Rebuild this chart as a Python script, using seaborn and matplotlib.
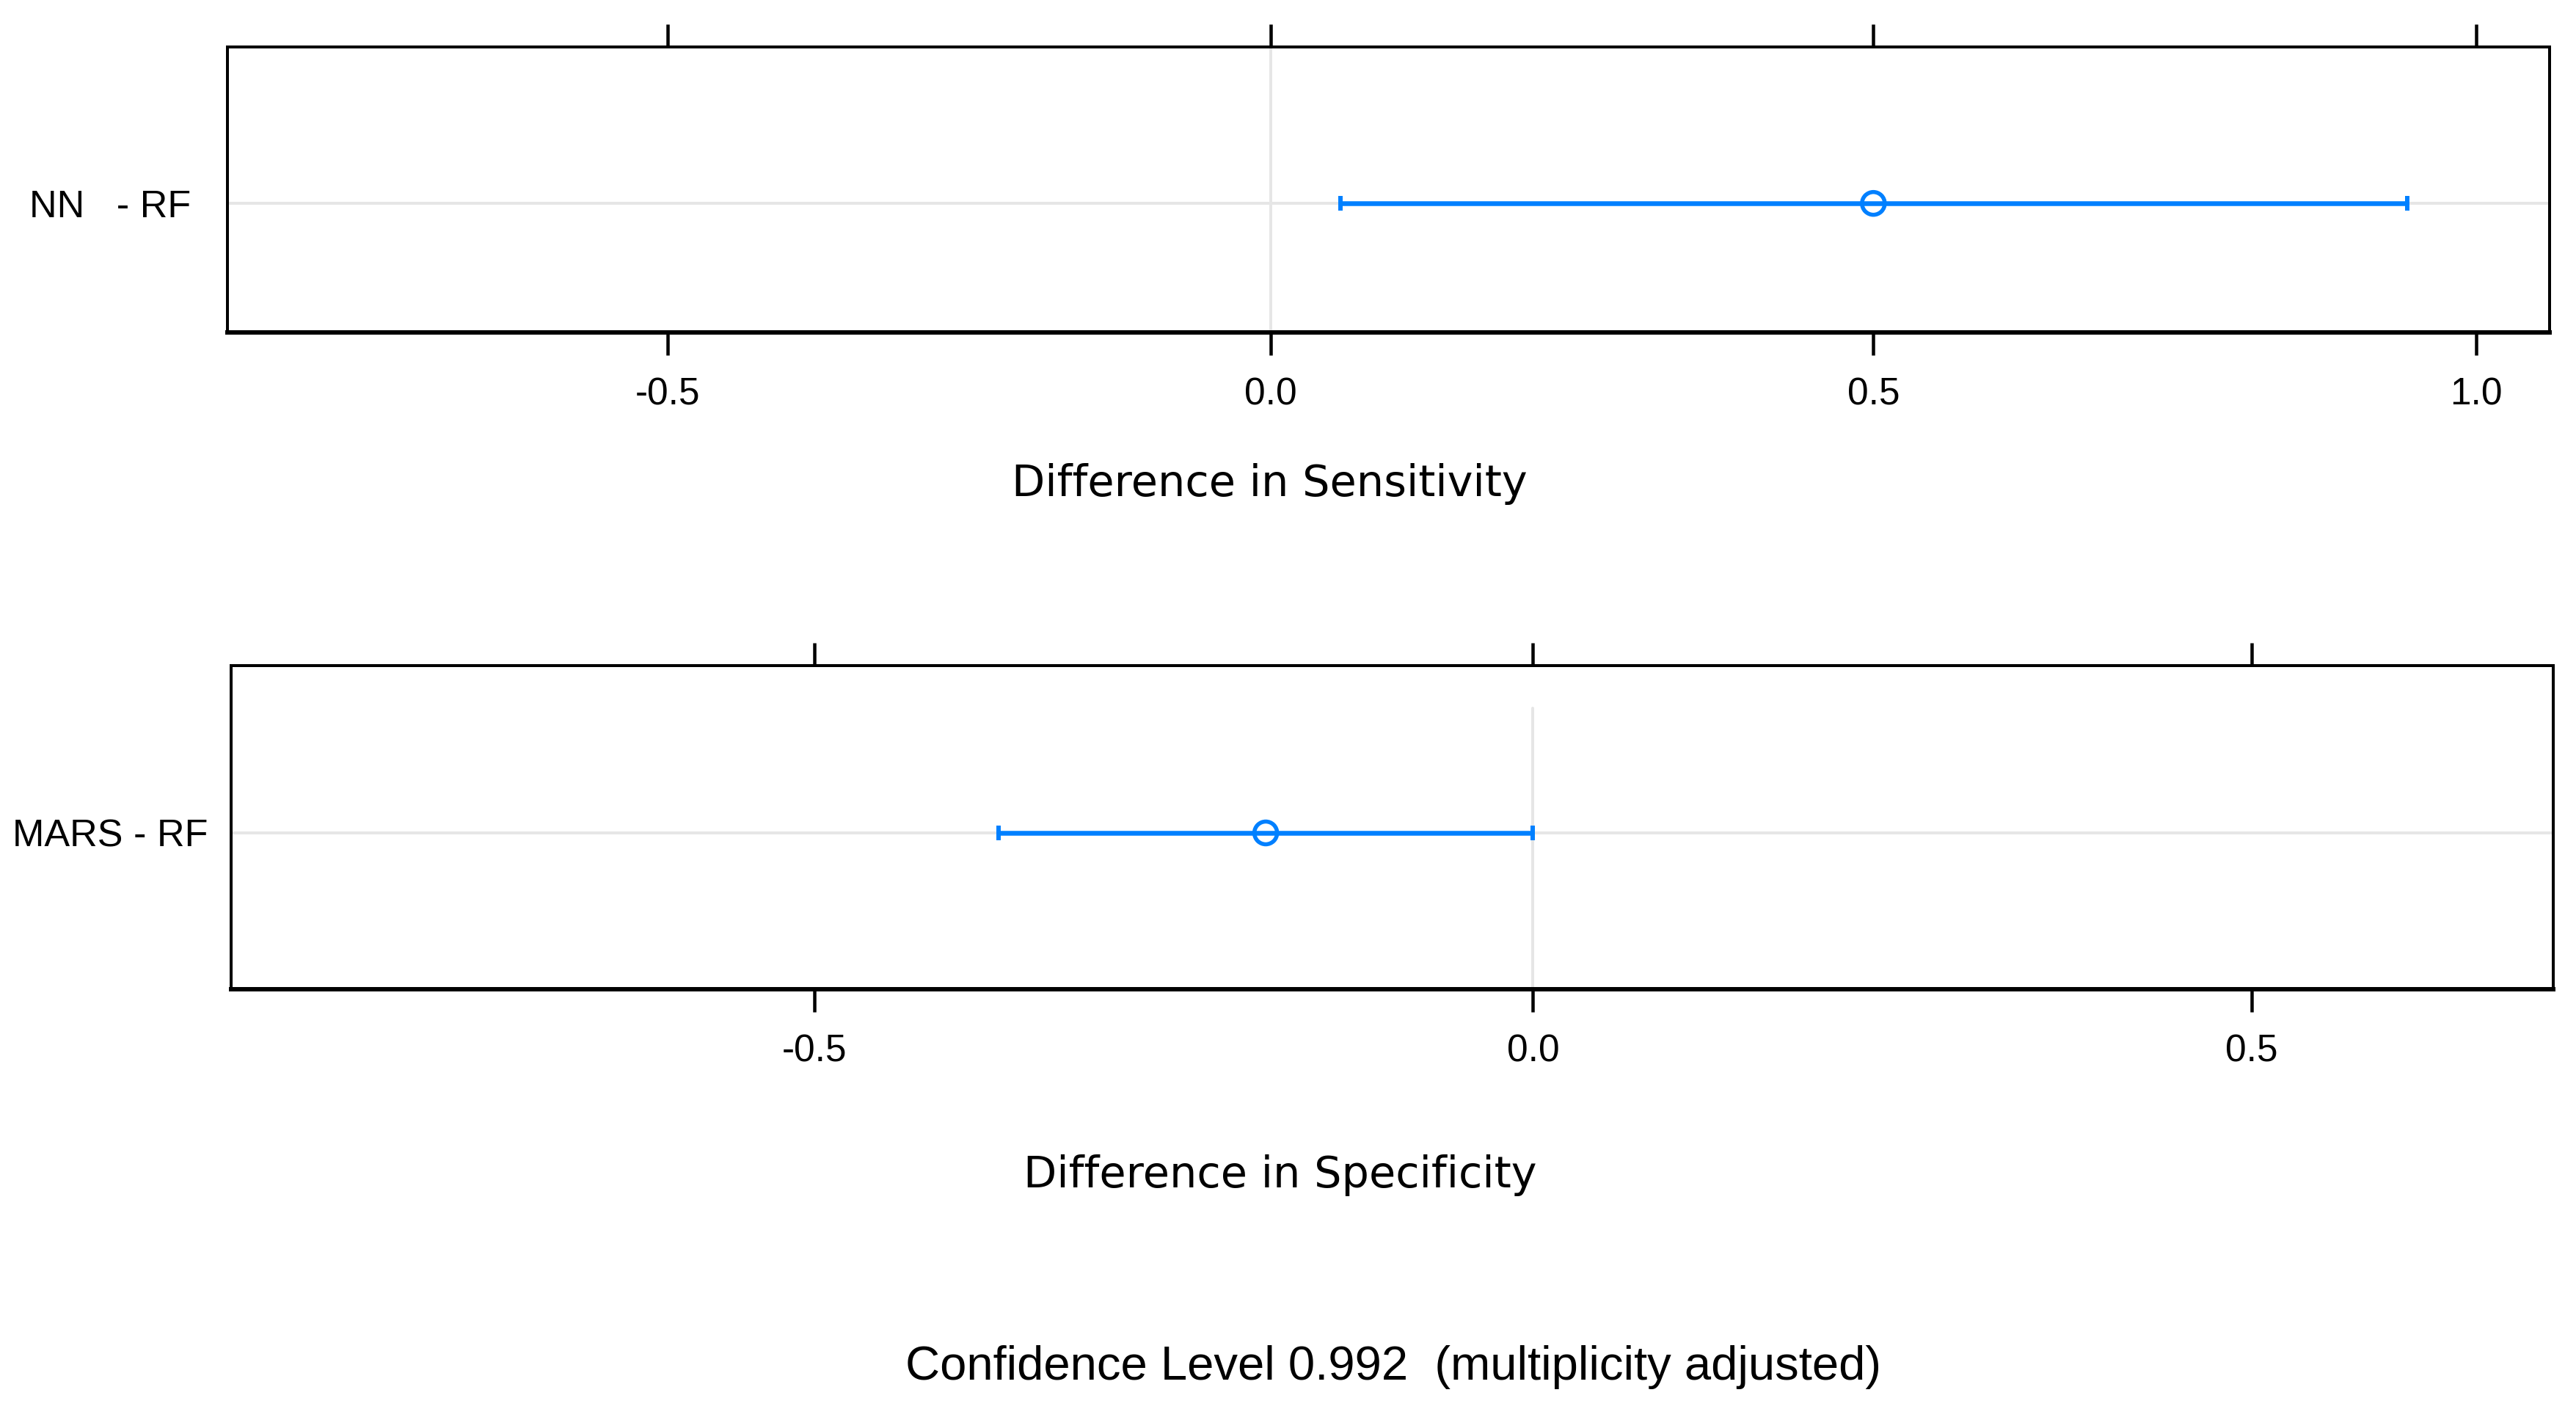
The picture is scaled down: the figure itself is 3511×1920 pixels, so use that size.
import numpy as np
import pandas as pd
import matplotlib
matplotlib.use("Agg")
import matplotlib.pyplot as plt
import seaborn as sns

# ---- data ----
comparisons_top = ["NN   - RF"]
est_top = [0.500]
lower_top = [0.058]
upper_top = [0.943]

comparisons_bot = ["MARS - RF"]
est_bot = [-0.186]
lower_bot = [-0.372]
upper_bot = [0.000]

xticks_top = [-0.5, 0.0, 0.5, 1.0]
xticks_bot = [-0.5, 0.0, 0.5]
xlim_top = (-0.8655, 1.061)
xlim_bot = (-0.906, 0.710)

xlabel_top = "Difference in Sensitivity"
xlabel_bot = "Difference in Specificity"
footer = "Confidence Level 0.992  (multiplicity adjusted)"

# ---- style ----
sns.set_theme(style="white")
plt.rcParams["font.family"] = ["Liberation Sans", "DejaVu Sans"]

W, H = 3511, 1920
DPI = 100
fig = plt.figure(figsize=(W / DPI, H / DPI), dpi=DPI)
fig.patch.set_facecolor("white")

BLUE = "#0080FF"
GRID = "#E6E6E6"
PX = 72.0 / DPI  # points per pixel


def panel(rect, labels, est, lo, hi, xticks, xlim, ylim, vline_ymax, ypad):
    ax = fig.add_axes(rect)
    ax.set_facecolor("white")
    df = pd.DataFrame({"comp": labels, "est": est, "lo": lo, "hi": hi})
    ypos = np.arange(len(labels))
    # reference lines
    ax.axhline(0, color=GRID, lw=4 * PX, zorder=0)
    ax.axvline(0, ymin=0, ymax=vline_ymax, color=GRID, lw=4 * PX, zorder=0)
    # confidence intervals
    ax.errorbar(df["est"], ypos,
                xerr=[df["est"] - df["lo"], df["hi"] - df["est"]],
                fmt="none", ecolor=BLUE, elinewidth=6.5 * PX,
                capsize=10 * PX, capthick=6 * PX, zorder=2)
    # estimates
    sns.scatterplot(x=df["est"], y=ypos, ax=ax, marker="o", s=(31 * PX) ** 2,
                    facecolors="none", edgecolor=BLUE, linewidth=5.5 * PX,
                    zorder=3, legend=False)
    ax.set_xlim(*xlim)
    ax.set_ylim(*ylim)
    ax.set_yticks(ypos)
    ax.set_yticklabels(df["comp"])
    ax.set_xticks(xticks)
    ax.set_xticklabels([f"{t:.1f}" for t in xticks])
    ax.set_xlabel("")
    ax.set_ylabel("")
    for name, s in ax.spines.items():
        s.set_visible(True)
        s.set_color("black")
        s.set_linewidth((6 if name == "bottom" else 4) * PX)
    ax.tick_params(axis="x", which="both", top=True, bottom=True,
                   labeltop=False, labelbottom=True, direction="out",
                   length=31 * PX, width=4.5 * PX, color="black",
                   labelsize=37, pad=21, labelcolor="black")
    ax.tick_params(axis="y", left=False, right=False, labelsize=37.5,
                   pad=ypad, labelcolor="black")
    ax.grid(False)
    return ax


# top panel: axes px left 310, right 3475, top 64, bottom 453 ; row at 277
ax1 = panel([310 / W, 1 - 453 / H, 3165 / W, 389 / H],
            comparisons_top, est_top, lower_top, upper_top,
            xticks_top, xlim_top, (-0.452, 0.548), 1.0, 30)
# bottom panel: left 315, right 3480, top 907, bottom 1348 ; row at 1135
ax2 = panel([315 / W, 1 - 1348 / H, 3165 / W, 441 / H],
            comparisons_bot, est_bot, lower_bot, upper_bot,
            xticks_bot, xlim_bot, (-0.483, 0.517), 0.868, 17)

fig.text(1730 / W, 1 - 676 / H, xlabel_top, ha="center", va="baseline",
         fontsize=42.5, family=["DejaVu Sans"], color="black")
fig.text(1745 / W, 1 - 1618 / H, xlabel_bot, ha="center", va="baseline",
         fontsize=42.5, family=["DejaVu Sans"], color="black")
fig.text(1899 / W, 1 - 1880 / H, footer, ha="center", va="baseline",
         fontsize=47, family=["Liberation Sans", "DejaVu Sans"], color="black")

fig.savefig("out.png", dpi=DPI, facecolor="white")
